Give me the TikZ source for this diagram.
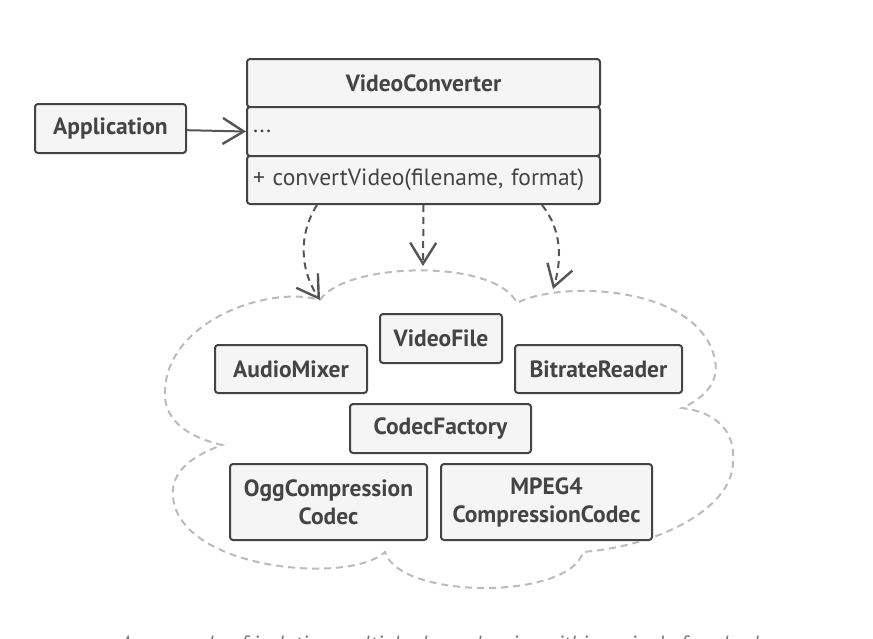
\documentclass[tikz,border=0pt]{standalone}
\usepackage{fontspec}
\setmainfont{PT Sans}
\usetikzlibrary{arrows.meta}
\definecolor{boxline}{HTML}{444444}
\definecolor{boxfill}{HTML}{F5F5F5}
\definecolor{arrowline}{HTML}{555555}
\definecolor{cloudline}{HTML}{BBBBBB}
\definecolor{captiontext}{HTML}{777777}
\tikzset{
  cls/.style={draw=boxline,fill=boxfill,line width=2pt,rounded corners=3pt,
    text=boxline,inner sep=0pt,align=center,
    font=\fontsize{23.5}{28}\selectfont\bfseries},
  row/.style={cls,minimum width=353pt,text width=341pt,align=left,
    font=\fontsize{23.5}{28}\selectfont},
  assoc/.style={draw=arrowline,line width=2pt,
    -{Straight Barb[length=21pt,width=26pt,line width=2.4pt]}},
  dep/.style={assoc,dash pattern=on 7pt off 5pt},
  cloud/.style={draw=cloudline,line width=2pt,dash pattern=on 7pt off 5pt}
}

\begin{document}
\begin{tikzpicture}[x=1pt,y=-1pt]
  \useasboundingbox (0,0) rectangle (873,638);

  % facade class
  \node[cls,minimum width=353pt,minimum height=48pt] (vcname) at (423.5,83) {VideoConverter};
  \node[row,minimum height=49pt] (vcfields) at (423.5,131.5) {...};
  \node[row,minimum height=48pt] (vcmethods) at (423.5,180) {+ convertVideo(filename, format)};
  \node[cls,minimum width=151pt,minimum height=49pt] (app) at (110.5,128.5) {Application};
  \draw[assoc] (app) -- (vcfields.west);

  % cloud of subsystem classes
  \coordinate (c1) at (320,300);
  \coordinate (c2) at (517,303);
  \coordinate (c3) at (682,408);
  \coordinate (c4) at (583,552);
  \coordinate (c5) at (385,552);
  \coordinate (c6) at (222,445);
  \coordinate (tm) at (423,266);
  \coordinate (tr) at (553,289);
  \draw[cloud] (c1) .. controls (345,262) and (495,258) .. (c2)
    .. controls (560,280) and (700,285) .. (715,360)
    .. controls (720,385) and (700,400) .. (c3)
    .. controls (715,412) and (735,430) .. (733,460)
    .. controls (735,505) and (665,545) .. (c4)
    .. controls (570,600) and (400,600) .. (c5)
    .. controls (350,585) and (180,570) .. (173,497)
    .. controls (170,470) and (195,455) .. (c6)
    .. controls (180,435) and (163,415) .. (165,390)
    .. controls (168,320) and (270,285) .. (c1);

  \node[cls,minimum width=152pt,minimum height=48pt] (audio) at (291,369) {AudioMixer};
  \node[cls,minimum width=122pt,minimum height=49pt] (videofile) at (441,338.5) {VideoFile};
  \node[cls,minimum width=167pt,minimum height=48pt] (bitrate) at (598.5,369) {BitrateReader};
  \node[cls,minimum width=181pt,minimum height=49pt] (codec) at (440.5,428.5) {CodecFactory};
  \node[cls,minimum width=197pt,minimum height=76pt] (ogg) at (328.5,502) {OggCompression\\Codec};
  \node[cls,minimum width=211pt,minimum height=76pt] (mpeg) at (546.5,502) {MPEG4\\CompressionCodec};

  % dependencies
  \draw[dep] ([xshift=-106.5pt]vcmethods.south) .. controls (298,235) and (300,270) .. (c1);
  \draw[dep] (vcmethods.south) -- (tm);
  \draw[dep] ([xshift=118.5pt]vcmethods.south) .. controls (562,230) and (562,260) .. (tr);

  % caption, cut by the lower edge
  \begin{scope}
    \clip (0,0) rectangle (873,638);
    \node[anchor=north,inner sep=0pt,text=captiontext,
      font=\fontsize{22}{26}\selectfont\itshape] (caption) at (456,635.5)
      {An example of isolating multiple dependencies within a single facade class.};
  \end{scope}
\end{tikzpicture}
\end{document}
